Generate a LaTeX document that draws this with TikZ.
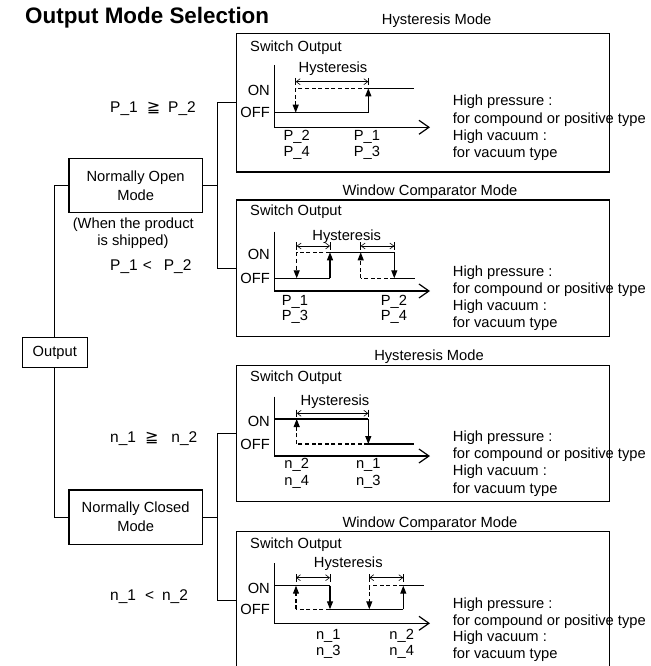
\documentclass[tikz,border=0pt]{standalone}
\usepackage{fontspec}
\setmainfont{Liberation Sans}
\newfontfamily\symf{DejaVu Sans}
\usetikzlibrary{arrows.meta}

\newcommand\geqq{{\symf\fontsize{16}{16}\selectfont ≧}}

\tikzset{
  txt/.style={inner sep=0pt, font=\fontsize{14.7}{17}\selectfont},
  cond/.style={inner sep=0pt, font=\fontsize{15.5}{17}\selectfont, anchor=base west},
  boxnode/.style={draw, line width=1.2pt, inner sep=0pt, font=\fontsize{14.7}{19}\selectfont, align=center},
  wire/.style={line width=1.2pt},
  sig/.style={line width=1.2pt},
  dsig/.style={line width=1.1pt, dash pattern=on 4pt off 2.6pt},
  trans/.style={line width=1.2pt, -{Triangle[length=8pt,width=6pt]}},
  dtrans/.style={line width=1.1pt, dash pattern=on 4pt off 2.6pt, -{Triangle[length=8pt,width=6pt]}},
  hyst/.style={line width=0.6pt, {Straight Barb[length=4pt,width=6pt]}-{Straight Barb[length=4pt,width=6pt]}},
  tick/.style={line width=0.6pt},
  axis/.style={line width=1.2pt, -{Straight Barb[length=10pt,width=14pt]}}
}

\begin{document}
\begin{tikzpicture}[x=1pt,y=-1pt]
\useasboundingbox (0,0) rectangle (650,666);

% title
\node[anchor=base west, inner sep=0pt, font=\bfseries\fontsize{22.4}{26}\selectfont] (title) at (25,24) {Output Mode Selection};

% ---------- selection tree ----------
\node[boxnode, minimum width=65pt, minimum height=30.4pt] (out) at (54.8,352.5) {Output};
\node[boxnode, minimum width=133.3pt, minimum height=54.4pt] (nom) at (135.65,185.5) {Normally Open\\Mode\hspace*{0pt}};
\node[boxnode, minimum width=133.3pt, minimum height=54.3pt] (ncm) at (135.65,517.15) {Normally Closed\\Mode};

\node[txt, anchor=base] (ship1) at (133.3,228.3) {(When the product};
\node[txt, anchor=base] (ship2) at (133,245) {is shipped)};

\node[cond] (c1) at (110,112.3) {P\_1\hspace{9pt}\geqq\hspace{8pt}P\_2};
\node[cond] (c2) at (110,270.7) {P\_1\hspace{5pt}<\hspace{12pt}P\_2};
\node[cond] (c3) at (110,442) {n\_1\hspace{9pt}\geqq\hspace{13pt}n\_2};
\node[cond] (c4) at (110,600) {n\_1\hspace{9pt}<\hspace{8pt}n\_2};

% ---------- mode panels ----------
\node[txt, anchor=base] (m1) at (436.7,25) {Hysteresis Mode};
\node[boxnode, minimum width=372.8pt, minimum height=138.5pt] (p1) at (423.1,102.75) {};
\node[txt, anchor=base] (m2) at (430,195) {Window Comparator Mode};
\node[boxnode, minimum width=372.8pt, minimum height=136.7pt] (p2) at (423.1,268.35) {};
\node[txt, anchor=base] (m3) at (429,360) {Hysteresis Mode};
\node[boxnode, minimum width=372.8pt, minimum height=136pt] (p3) at (423.1,433.7) {};
\node[txt, anchor=base] (m4) at (430,527.5) {Window Comparator Mode};
\node[boxnode, minimum width=372.8pt, minimum height=137.3pt] (p4) at (423.1,600.35) {};

% connectors
\coordinate (j1) at (217.3,185.5);
\coordinate (j2) at (217.3,517.15);
\draw[wire] (out.north) |- (nom.west);
\draw[wire] (out.south) |- (ncm.west);
\draw[wire] (nom.east) -- (j1);
\draw[wire] (p1.west) -| (j1) |- (p2.west);
\draw[wire] (ncm.east) -- (j2);
\draw[wire] (p3.west) -| (j2) |- (p4.west);

% ---------- panel 1: hysteresis, normally open ----------
\node[txt, anchor=base west] (s1) at (250,51.5) {Switch Output};
\draw[axis] (274.3,65) |- (430,127.3);
\node[txt, anchor=east] (on1) at (270,90.8) {ON};
\node[txt, anchor=east] (off1) at (270,112) {OFF};
\node[txt, anchor=base] (h1) at (333,72.7) {Hysteresis};
\draw[hyst] (295.7,81.7) -- (368.3,81.7);
\draw[tick] (295.7,78) -- (295.7,85.5);
\draw[tick] (368.3,78) -- (368.3,85.5);
\draw[sig] (274.3,112.7) -- (368.3,112.7);
\draw[trans] (368.3,112.7) -- (368.3,88.3);
\draw[sig] (368.3,88.3) -- (414,88.3);
\draw[dsig] (368.3,88.3) -- (295.7,88.3);
\draw[dtrans] (295.7,88.3) -- (295.7,112.7);
\node[txt, anchor=base] (a1) at (296.7,140) {P\_2};
\node[txt, anchor=base] (a2) at (296.7,156) {P\_4};
\node[txt, anchor=base] (a3) at (367,140) {P\_1};
\node[txt, anchor=base] (a4) at (367,156) {P\_3};

% ---------- panel 2: window comparator, normally open ----------
\node[txt, anchor=base west] (s2) at (250,215) {Switch Output};
\draw[axis] (274.3,231.7) |- (430,291);
\node[txt, anchor=east] (on2) at (270,254.5) {ON};
\node[txt, anchor=east] (off2) at (270,278) {OFF};
\node[txt, anchor=base] (h2) at (346.7,240) {Hysteresis};
\draw[hyst] (296.7,246) -- (330,246);
\draw[tick] (296.7,242.3) -- (296.7,249.8);
\draw[tick] (330,242.3) -- (330,249.8);
\draw[hyst] (360.7,246) -- (394.3,246);
\draw[tick] (360.7,242.3) -- (360.7,249.8);
\draw[tick] (394.3,242.3) -- (394.3,249.8);
\draw[sig] (274.3,278.3) -- (330,278.3);
\draw[trans] (330,278.3) -- (330,252.3);
\draw[sig] (330,252.3) -- (394.3,252.3);
\draw[trans] (394.3,252.3) -- (394.3,278.3);
\draw[sig] (394.3,278.3) -- (415,278.3);
\draw[dsig] (330,252.3) -- (296.7,252.3);
\draw[dtrans] (296.7,252.3) -- (296.7,278.3);
\draw[dsig] (394.3,278.3) -- (360.7,278.3);
\draw[dtrans] (360.7,278.3) -- (360.7,252.3);
\node[txt, anchor=base] (b1) at (295,305.5) {P\_1};
\node[txt, anchor=base] (b2) at (295,320.5) {P\_3};
\node[txt, anchor=base] (b3) at (394,305.5) {P\_2};
\node[txt, anchor=base] (b4) at (394,320.5) {P\_4};

% ---------- panel 3: hysteresis, normally closed ----------
\node[txt, anchor=base west] (s3) at (250,381.7) {Switch Output};
\draw[axis] (274.3,396.7) |- (430,456);
\node[txt, anchor=east] (on3) at (270,421.3) {ON};
\node[txt, anchor=east] (off3) at (270,444) {OFF};
\node[txt, anchor=base] (h3) at (335,405) {Hysteresis};
\draw[hyst] (296.7,413.3) -- (368.3,413.3);
\draw[tick] (296.7,409.6) -- (296.7,417.1);
\draw[tick] (368.3,409.6) -- (368.3,417.1);
\draw[sig] (274.3,419) -- (368.3,419);
\draw[trans] (368.3,419) -- (368.3,444);
\draw[sig] (368.3,444) -- (414,444);
\draw[dsig] (368.3,444) -- (296.7,444);
\draw[dtrans] (296.7,444) -- (296.7,419);
\node[txt, anchor=base] (d1) at (296.7,468.3) {n\_2};
\node[txt, anchor=base] (d2) at (296.7,485) {n\_4};
\node[txt, anchor=base] (d3) at (368.3,468.3) {n\_1};
\node[txt, anchor=base] (d4) at (368.3,485) {n\_3};

% ---------- panel 4: window comparator, normally closed ----------
\node[txt, anchor=base west] (s4) at (250,548) {Switch Output};
\draw[axis] (274.3,563.3) |- (430,623.3);
\node[txt, anchor=east] (on4) at (270,588) {ON};
\node[txt, anchor=east] (off4) at (270,609) {OFF};
\node[txt, anchor=base] (h4) at (348.3,567) {Hysteresis};
\draw[hyst] (296,577.7) -- (330,577.7);
\draw[tick] (296,574) -- (296,581.5);
\draw[tick] (330,574) -- (330,581.5);
\draw[hyst] (369.3,577.7) -- (403.3,577.7);
\draw[tick] (369.3,574) -- (369.3,581.5);
\draw[tick] (403.3,574) -- (403.3,581.5);
\draw[sig] (274.3,585.7) -- (330,585.7);
\draw[trans] (330,585.7) -- (330,609.3);
\draw[sig] (330,609.3) -- (403.3,609.3);
\draw[trans] (403.3,609.3) -- (403.3,585.7);
\draw[sig] (403.3,585.7) -- (424.3,585.7);
\draw[dsig] (330,609.3) -- (296,609.3);
\draw[dtrans] (296,609.3) -- (296,585.7);
\draw[dsig] (403.3,585.7) -- (369.3,585.7);
\draw[dtrans] (369.3,585.7) -- (369.3,609.3);
\node[txt, anchor=base] (e1) at (328.3,639) {n\_1};
\node[txt, anchor=base] (e2) at (328.3,655) {n\_3};
\node[txt, anchor=base] (e3) at (401.7,639) {n\_2};
\node[txt, anchor=base] (e4) at (401.7,655) {n\_4};

% ---------- pressure notes beside each panel ----------
\foreach \k/\ya/\yb/\yc/\yd in {1/106/123.3/140.3/157.3, 2/276.5/293.5/310.5/327, 3/441.7/458.5/475.3/493, 4/608.3/625/641.7/658.3} {
  \node[txt, anchor=base west] (r\k a) at (452.7,\ya) {High pressure :};
  \node[txt, anchor=base west] (r\k b) at (452.7,\yb) {for compound or positive type};
  \node[txt, anchor=base west] (r\k c) at (452.7,\yc) {High vacuum :};
  \node[txt, anchor=base west] (r\k d) at (452.7,\yd) {for vacuum type};
}
\end{tikzpicture}
\end{document}
